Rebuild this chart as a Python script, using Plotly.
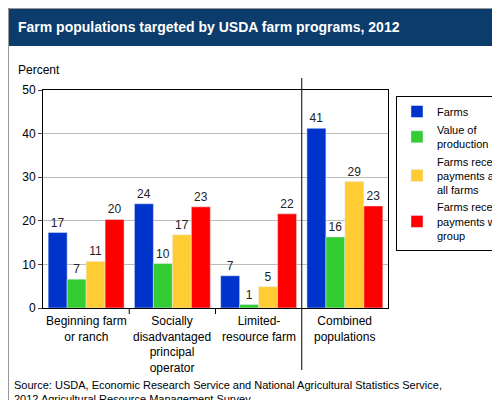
import plotly.graph_objects as go

groups = ["Beginning farm<br>or ranch", "Socially<br>disadvantaged<br>principal<br>operator",
          "Limited-<br>resource farm", "Combined<br>populations"]
farms = [17.3, 23.9, 7.4, 41.2]
value_prod = [6.6, 10.2, 0.8, 16.3]
pay_all = [10.7, 16.8, 4.9, 29.0]
pay_group = [20.3, 23.2, 21.6, 23.4]
series = [
    ("Farms", farms, "#0033cc"),
    ("Value of<br>production", value_prod, "#33cc33"),
    ("Farms receiving<br>payments across<br>all farms", pay_all, "#ffcc33"),
    ("Farms receiving<br>payments within<br>group", pay_group, "#ff0000"),
]

fig = go.Figure()
for name, vals, col in series:
    fig.add_bar(x=[0, 1, 2, 3], y=vals, name=name, marker_color=col,
                text=[str(round(v)) for v in vals], textposition="outside",
                textfont=dict(size=12, color="#222"), cliponaxis=False)

# pixel -> paper helpers (plot area: x 35..380, y 82..300)
def py(p): return (300 - p) / 218
def px_(p): return (p - 35) / 345

shapes = [
    dict(type="rect", xref="paper", yref="paper", x0=px_(0), x1=px_(500), y0=py(38), y1=py(0),
         fillcolor="#0b3c6b", line_width=0, layer="below"),
    dict(type="rect", xref="paper", yref="paper", x0=px_(0.5), x1=px_(499.5), y0=py(399.5), y1=py(0.5),
         line=dict(color="#999", width=1)),
    dict(type="line", xref="x", yref="paper", x0=2.5, x1=2.5, y0=py(362), y1=py(70),
         line=dict(color="black", width=1)),
    dict(type="line", xref="x", yref="paper", x0=0.5, x1=0.5, y0=0, y1=py(306),
         line=dict(color="black", width=1)),
    dict(type="line", xref="x", yref="paper", x0=1.5, x1=1.5, y0=0, y1=py(306),
         line=dict(color="black", width=1)),
]

annotations = [
    dict(text="<b>Farm populations targeted by USDA farm programs, 2012</b>",
         xref="paper", yref="paper", x=px_(8), y=py(19), xanchor="left", yanchor="middle",
         showarrow=False, font=dict(color="white", size=14)),
    dict(text="Percent", xref="paper", yref="paper", x=px_(8), y=py(62),
         xanchor="left", yanchor="middle", showarrow=False, font=dict(size=12)),
    dict(text="Source: USDA, Economic Research Service and National Agricultural Statistics Service,<br>2012 Agricultural Resource Management Survey.",
         xref="paper", yref="paper", x=px_(4), y=py(384), xanchor="left", yanchor="middle",
         align="left", showarrow=False, font=dict(size=11)),
]
for i, g in enumerate(groups):
    annotations.append(dict(text=g, xref="x", yref="paper", x=i, y=py(304),
                            xanchor="center", yanchor="top", showarrow=False,
                            font=dict(size=12), align="center"))

fig.update_layout(
    width=500, height=400, barmode="group", bargap=0.12, bargroupgap=0,
    margin=dict(l=35, r=120, t=82, b=100, autoexpand=False),
    paper_bgcolor="white", plot_bgcolor="white",
    font=dict(family="Liberation Sans, Arial, sans-serif", size=12, color="black"),
    shapes=shapes, showlegend=True, annotations=annotations,
    legend=dict(x=px_(388), y=py(88), xanchor="left", yanchor="top",
                bordercolor="black", borderwidth=1, tracegroupgap=18,
                font=dict(size=11), itemwidth=30),
)
fig.update_xaxes(range=[-0.5, 3.5], showticklabels=False, automargin=False,
                 showline=True, linecolor="black", mirror=True, ticks="", showgrid=False)
fig.update_yaxes(range=[0, 50], dtick=10, showline=True, linecolor="black", mirror=True,
                 automargin=False, ticks="outside", ticklen=4, showgrid=True, gridcolor="#bbb")

fig.write_html("out.html")
